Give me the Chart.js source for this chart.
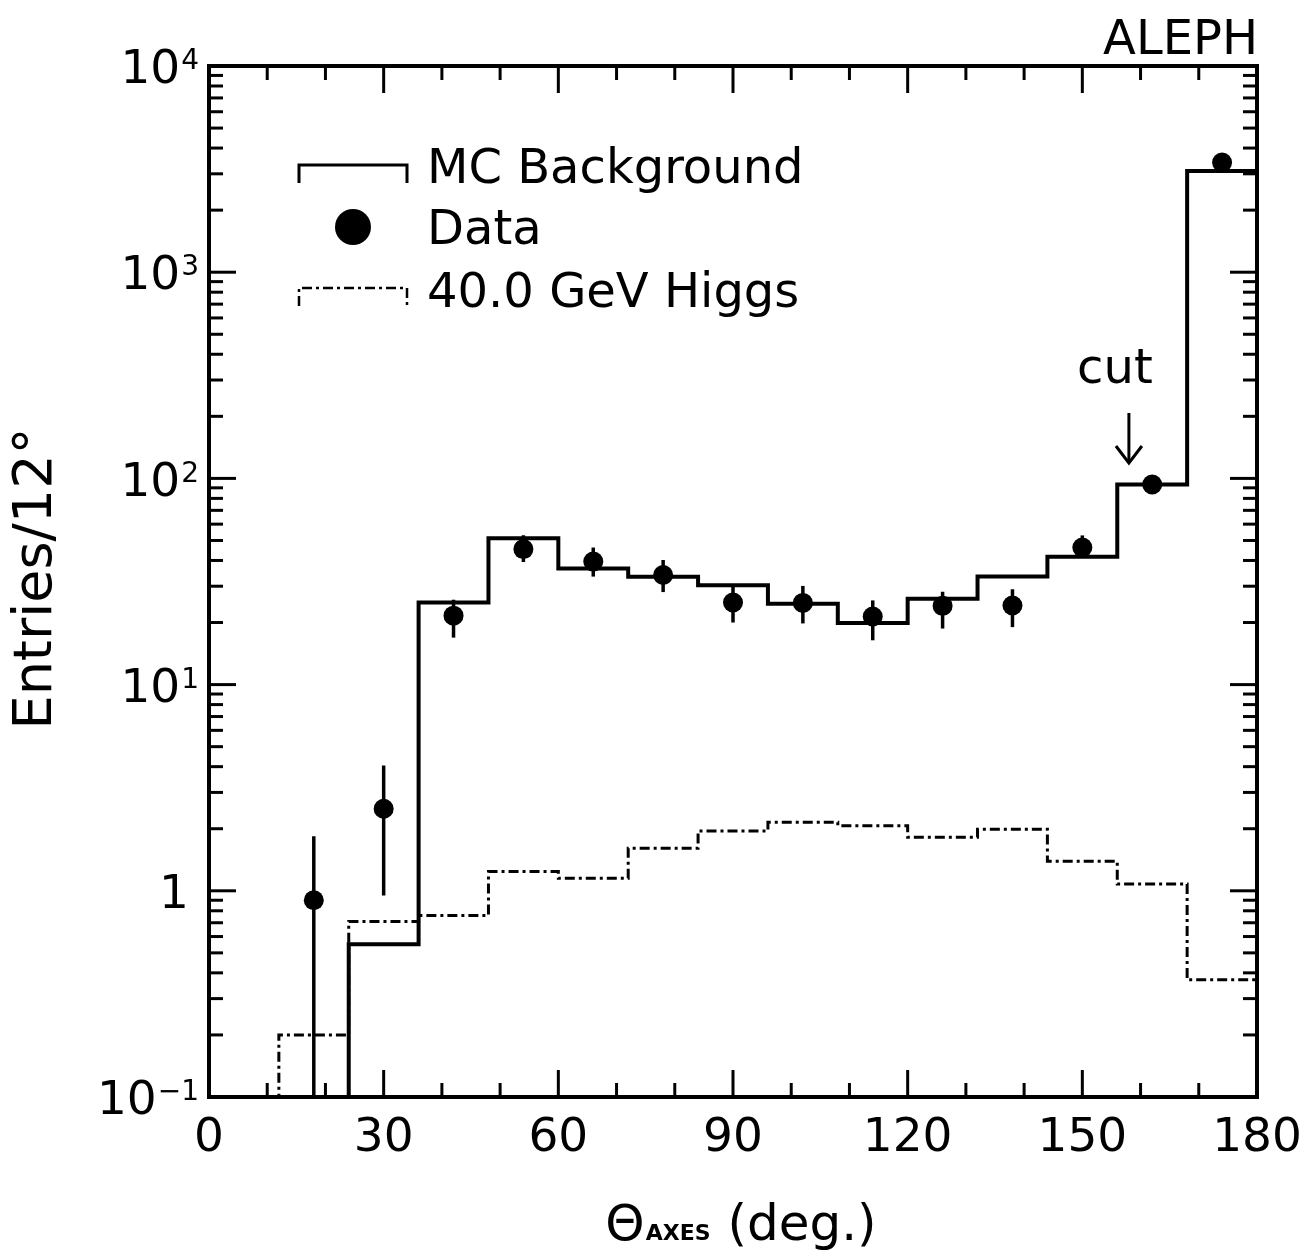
<!DOCTYPE html>
<html>
<head>
<meta charset="utf-8">
<script src="https://cdn.jsdelivr.net/npm/chart.js@4.4.1/dist/chart.umd.min.js"></script>
<style>
  html, body { margin: 0; padding: 0; background: #fff; }
  #wrap { width: 1308px; height: 1256px; position: relative; }
</style>
</head>
<body>
<div id="wrap"><canvas id="chart"></canvas></div>
<script>
// ALEPH - theta_axes distribution, 12 degree bins, log scale

const BIN_EDGES = [0, 12, 24, 36, 48, 60, 72, 84, 96, 108, 120, 132, 144, 156, 168, 180];
const MC_BACKGROUND = [0, 0, 0.55, 25.0, 51.3, 36.6, 33.3, 30.3, 24.7, 19.9, 26.1, 33.4, 41.7, 93.4, 3100];
const HIGGS_40 = [0, 0.2, 0.71, 0.76, 1.24, 1.15, 1.61, 1.95, 2.15, 2.07, 1.82, 1.99, 1.39, 1.08, 0.37];

const DATA_X = [18, 30, 42, 54, 66, 78, 90, 102, 114, 126, 138, 150, 162, 174];
const DATA_Y = [0.9, 2.5, 21.6, 45.4, 39.5, 34.0, 25.0, 24.9, 21.4, 24.1, 24.2, 46.2, 93.4, 3400];
const DATA_LO = [0, 0.95, 16.9, 39.3, 33.4, 28.1, 20.0, 19.8, 16.4, 18.7, 19.0, 41.4, 84, 3340];
const DATA_HI = [1.84, 4.05, 25.8, 53.0, 46.2, 40.2, 29.9, 30.1, 25.6, 28.2, 29.0, 52.9, 103, 3460];

const X_TICKS = [0, 30, 60, 90, 120, 150, 180];
const Y_DECADES = [-1, 0, 1, 2, 3, 4];
const Y_MIN = 0.1, Y_MAX = 10000;
const CUT_X = 158;

const FONT = "'DejaVu Sans', 'Liberation Sans', sans-serif";
const DASH_DOT = [10, 4, 3, 4];

// histogram -> points at left bin edges plus closing point at the last edge
function stepPoints(values) {
    const pts = values.map((v, i) => ({ x: BIN_EDGES[i], y: v > 0 ? v : Y_MIN }));
    const last = values[values.length - 1];
    pts.push({ x: BIN_EDGES[BIN_EDGES.length - 1], y: last > 0 ? last : Y_MIN });
    return pts;
}

function line(ctx, x1, y1, x2, y2) {
    ctx.beginPath();
    ctx.moveTo(x1, y1);
    ctx.lineTo(x2, y2);
    ctx.stroke();
}

function drawPow(ctx, e, rightX, cy) {
    const big = 47, small = 28;
    if (e === 0) {
        ctx.font = `${big}px ${FONT}`;
        ctx.textAlign = "right";
        ctx.fillText("1", rightX - 10, cy + big * 0.364);
        return;
    }
    const sup = e < 0 ? "\u2212" + Math.abs(e) : String(e);
    ctx.font = `${small}px ${FONT}`;
    const ws = ctx.measureText(sup).width;
    ctx.textAlign = "right";
    ctx.fillText(sup, rightX, cy + big * 0.364 - 14);
    ctx.font = `${big}px ${FONT}`;
    ctx.fillText("10", rightX - ws - 1, cy + big * 0.364);
}

const decor = {
    id: "decor",
    afterDatasetsDraw(chart) {
        const ctx = chart.ctx;
        const x = chart.scales.x, y = chart.scales.y;
        ctx.save();
        ctx.strokeStyle = "#000";
        ctx.lineWidth = 3.5;
        DATA_X.forEach((xv, i) => {
            const px = x.getPixelForValue(xv);
            const lo = DATA_LO[i] > Y_MIN ? y.getPixelForValue(DATA_LO[i]) : chart.chartArea.bottom;
            line(ctx, px, lo, px, y.getPixelForValue(DATA_HI[i]));
        });
        ctx.restore();
    },
    afterDraw(chart) {
        const ctx = chart.ctx;
        const x = chart.scales.x, y = chart.scales.y;
        const { left, right, top, bottom } = chart.chartArea;
        ctx.save();
        ctx.strokeStyle = "#000";
        ctx.fillStyle = "#000";
        ctx.lineCap = "butt";

        // frame
        ctx.lineWidth = 4;
        ctx.strokeRect(left, top, right - left, bottom - top);

        // inner ticks
        ctx.lineWidth = 3;
        for (let t = 10; t < 180; t += 10) {
            const px = x.getPixelForValue(t);
            const len = t % 30 === 0 ? 27 : 14;
            line(ctx, px, bottom, px, bottom - len);
            line(ctx, px, top, px, top + len);
        }
        for (let e = -1; e < 4; e++) {
            for (let m = 1; m <= 9; m++) {
                const v = m * Math.pow(10, e);
                if (v <= Y_MIN) continue;
                const py = y.getPixelForValue(v);
                const len = m === 1 ? 27 : 14;
                line(ctx, left, py, left + len, py);
                line(ctx, right, py, right - len, py);
            }
        }

        // y tick labels 10^n
        ctx.textBaseline = "alphabetic";
        Y_DECADES.forEach(e => drawPow(ctx, e, left - 10, y.getPixelForValue(Math.pow(10, e))));

        // y axis title
        ctx.save();
        ctx.translate(37, (top + bottom) / 2 - 3);
        ctx.rotate(-Math.PI / 2);
        ctx.font = `54px ${FONT}`;
        ctx.textAlign = "center";
        ctx.textBaseline = "middle";
        ctx.fillText("Entries/12\u00b0", 0, 0);
        ctx.restore();

        // x axis title: Theta_AXES (deg.)
        const base = 1240;
        ctx.textAlign = "left";
        ctx.font = `50px ${FONT}`;
        const wT = ctx.measureText("\u0398").width;
        const wD = ctx.measureText(" (deg.)").width;
        ctx.font = `bold 22px ${FONT}`;
        const wS = ctx.measureText("AXES").width;
        let cx = (left + right) / 2 + 8 - (wT + wS + 2 + wD) / 2;
        ctx.font = `50px ${FONT}`;
        ctx.fillText("\u0398", cx, base);
        ctx.font = `bold 22px ${FONT}`;
        ctx.fillText("AXES", cx + wT + 1, base);
        ctx.font = `50px ${FONT}`;
        ctx.fillText(" (deg.)", cx + wT + wS + 2, base);

        // ALEPH label
        ctx.font = `48px ${FONT}`;
        ctx.textAlign = "right";
        ctx.fillText("ALEPH", right + 1, top - 12);

        // legend
        const lx0 = left + 90, lx1 = left + 198, tx = left + 218;
        ctx.lineWidth = 3;
        ctx.beginPath();
        ctx.moveTo(lx0, top + 117);
        ctx.lineTo(lx0, top + 99);
        ctx.lineTo(lx1, top + 99);
        ctx.lineTo(lx1, top + 117);
        ctx.stroke();
        ctx.beginPath();
        ctx.arc(left + 144, top + 161, 18, 0, Math.PI * 2);
        ctx.fill();
        ctx.setLineDash(DASH_DOT);
        ctx.lineWidth = 2.5;
        ctx.beginPath();
        ctx.moveTo(lx0, top + 240);
        ctx.lineTo(lx0, top + 222);
        ctx.lineTo(lx1, top + 222);
        ctx.lineTo(lx1, top + 240);
        ctx.stroke();
        ctx.setLineDash([]);
        ctx.font = `48px ${FONT}`;
        ctx.textAlign = "left";
        ctx.fillText("MC Background", tx, top + 117);
        ctx.fillText("Data", tx, top + 178);
        ctx.fillText("40.0 GeV Higgs", tx, top + 241);

        // cut arrow
        const ax = x.getPixelForValue(CUT_X);
        const ay0 = top + 347, ay1 = top + 397;
        ctx.lineWidth = 3;
        line(ctx, ax, ay0, ax, ay1);
        ctx.beginPath();
        ctx.moveTo(ax - 13, ay1 - 17);
        ctx.lineTo(ax, ay1);
        ctx.lineTo(ax + 13, ay1 - 17);
        ctx.stroke();
        ctx.font = `48px ${FONT}`;
        ctx.textAlign = "center";
        ctx.fillText("cut", ax - 14, ay0 - 30);

        ctx.restore();
    }
};

function render() {
    const ctx = document.getElementById("chart");
    new Chart(ctx, {
        data: {
            datasets: [
                {
                    type: "line",
                    label: "MC Background",
                    data: stepPoints(MC_BACKGROUND),
                    stepped: true,
                    borderColor: "#000",
                    borderWidth: 4,
                    pointRadius: 0,
                    fill: false,
                },
                {
                    type: "line",
                    label: "40.0 GeV Higgs",
                    data: stepPoints(HIGGS_40),
                    stepped: true,
                    borderColor: "#000",
                    borderWidth: 3,
                    borderDash: DASH_DOT,
                    pointRadius: 0,
                    fill: false,
                },
                {
                    type: "scatter",
                    label: "Data",
                    data: DATA_X.map((xv, i) => ({ x: xv, y: DATA_Y[i] })),
                    pointStyle: "circle",
                    pointRadius: 10,
                    backgroundColor: "#000",
                    borderWidth: 0,
                },
            ]
        },
        options: {
            responsive: true,
            maintainAspectRatio: false,
            animation: false,
            layout: { padding: { top: 66, right: 51, left: 0, bottom: 0 } },
            plugins: {
                legend: { display: false },
                tooltip: { enabled: false },
            },
            scales: {
                x: {
                    type: "linear",
                    min: 0,
                    max: 180,
                    afterBuildTicks: (s) => { s.ticks = X_TICKS.map(v => ({ value: v })); },
                    afterFit: (s) => { s.height = 159; s.paddingLeft = 0; s.paddingRight = 0; },
                    grid: { display: false, drawTicks: false },
                    border: { display: false },
                    ticks: {
                        color: "#000",
                        padding: 14,
                        maxRotation: 0,
                        font: { family: FONT, size: 47 },
                    },
                },
                y: {
                    type: "logarithmic",
                    min: Y_MIN,
                    max: Y_MAX,
                    afterFit: (s) => { s.width = 209; },
                    grid: { display: false, drawTicks: false },
                    border: { display: false },
                    ticks: { display: false },
                },
            },
        },
        plugins: [decor],
    });
}

document.addEventListener("DOMContentLoaded", render);
</script>
</body>
</html>
